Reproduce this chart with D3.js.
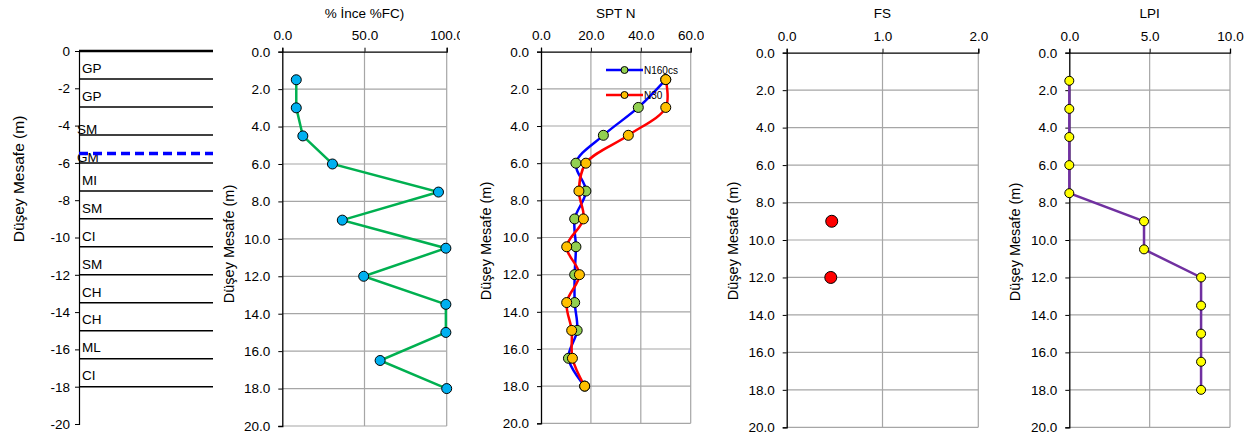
<!DOCTYPE html>
<html>
<head>
<meta charset="utf-8">
<script src="https://cdn.jsdelivr.net/npm/d3@7/dist/d3.min.js"></script>
<style>
  html, body { margin: 0; padding: 0; background: #fff; }
  svg { display: block; font-family: "Liberation Sans", Arial, sans-serif; }
  .tick text { font-size: 13.5px; fill: #000; }
</style>
</head>
<body>
<svg id="chart" width="1255" height="438"></svg>
<script>
// ---------------- DATA ----------------
const depths = [1.5, 3, 4.5, 6, 7.5, 9, 10.5, 12, 13.5, 15, 16.5, 18];
const fineContent = [8.5, 8.5, 12.5, 30.5, 95, 36.5, 99.5, 49.5, 99.5, 99.5, 59.5, 100];
const n160cs = [50, 39, 25, 14, 18, 13.5, 14, 13.5, 13.5, 14.5, 11, 17.5];
const n30 = [50, 50, 35, 18, 15.2, 17, 10.3, 15.4, 10.3, 12.3, 12.6, 17.5];
const fsDepths = [9, 12];
const fsValues = [0.47, 0.46];
const lpiValues = [0, 0, 0, 0, 0, 4.65, 4.65, 8.2, 8.2, 8.2, 8.2, 8.2];
const layerBounds = [0, 1.5, 3, 4.5, 6, 7.5, 9, 10.5, 12, 13.5, 15, 16.5, 18];
const layerNames = ["GP", "GP", "SM", "GM", "MI", "SM", "CI", "SM", "CH", "CH", "ML", "CI"];
const waterTableDepth = 5.5;
const soilTicks = [0, -2, -4, -6, -8, -10, -12, -14, -16, -18, -20];
const depthTicks = [0, 2, 4, 6, 8, 10, 12, 14, 16, 18, 20];
const fcTicks = [0, 50, 100];
const sptTicks = [0, 20, 40, 60];
const fsTicks = [0, 1, 2];
const lpiTicks = [0, 5, 10];
const legendNames = ["N160cs", "N30"];

// ---------------- DRAW ----------------
const svg = d3.select("#chart");
const fmt1 = d3.format(".1f");
const yTitle = "Düşey Mesafe (m)";

// Soil column
(function () {
  const x0 = 79, x1 = 213;
  const y = d3.scaleLinear().domain([0, -20]).range([51, 424]);
  const g = svg.append("g");
  const ax = g.append("g").attr("transform", `translate(${x0},0)`)
    .call(d3.axisLeft(y).tickValues(soilTicks).tickFormat(d3.format("d")).tickSize(4).tickPadding(5));
  ax.select(".domain").attr("stroke", "#000").attr("stroke-width", 1.2);
  ax.selectAll(".tick line").attr("stroke", "#000");
  ax.selectAll(".tick text").text(d => d === 0 ? "0" : "-" + Math.abs(d));
  layerBounds.forEach((d, i) => {
    g.append("line").attr("x1", x0).attr("x2", x1)
      .attr("y1", y(-d)).attr("y2", y(-d))
      .attr("stroke", "#000").attr("stroke-width", i === 0 ? 2.5 : 1.5);
  });
  layerNames.forEach((name, i) => {
    const mid = (layerBounds[i] + layerBounds[i + 1]) / 2;
    const shifted = (i === 2 || i === 3);
    g.append("text").attr("x", shifted ? 77 : 82)
      .attr("y", y(-mid) + (shifted ? 8 : 3)).attr("dy", "0.35em")
      .attr("font-size", 13.5).text(name);
  });
  g.append("line").attr("x1", x0).attr("x2", x1)
    .attr("y1", y(-waterTableDepth)).attr("y2", y(-waterTableDepth))
    .attr("stroke", "#0000FF").attr("stroke-width", 3.5).attr("stroke-dasharray", "9,5");
  g.append("text").attr("transform", `translate(24,179) rotate(-90)`)
    .attr("text-anchor", "middle").attr("font-size", 15.5).text(yTitle);
})();

function panel(opts) {
  const { title, x0, x1, y0, y1, max, ticks, clipRight } = opts;
  const x = d3.scaleLinear().domain([0, max]).range([x0, x1]);
  const y = d3.scaleLinear().domain([0, 20]).range([y0, y1]);
  const id = "clip" + Math.round(x0);
  svg.append("clipPath").attr("id", id).append("rect")
    .attr("x", x0 - 80).attr("y", 0).attr("width", clipRight - (x0 - 80)).attr("height", 438);
  const g = svg.append("g").attr("clip-path", `url(#${id})`);
  // grid
  g.append("g").selectAll("line").data(depthTicks.slice(1)).join("line")
    .attr("x1", x0).attr("x2", x1).attr("y1", d => y(d)).attr("y2", d => y(d))
    .attr("stroke", "#A6A6A6").attr("stroke-width", 1.2);
  g.append("g").selectAll("line").data(ticks.slice(1)).join("line")
    .attr("x1", d => x(d)).attr("x2", d => x(d)).attr("y1", y0).attr("y2", y1)
    .attr("stroke", "#A6A6A6").attr("stroke-width", 1.2);
  // axes
  const ay = g.append("g").attr("transform", `translate(${x0},0)`)
    .call(d3.axisLeft(y).tickValues(depthTicks).tickFormat(fmt1).tickSize(4).tickPadding(8));
  const axT = g.append("g").attr("transform", `translate(0,${y0})`)
    .call(d3.axisTop(x).tickValues(ticks).tickFormat(fmt1).tickSize(4).tickPadding(8));
  [ay, axT].forEach(a => {
    a.select(".domain").attr("stroke", "#000").attr("stroke-width", 1.3);
    a.selectAll(".tick line").attr("stroke", "#000");
  });
  g.append("text").attr("x", (x0 + x1) / 2).attr("y", 18)
    .attr("text-anchor", "middle").attr("font-size", 13.5).text(title);
  g.append("text").attr("transform", `translate(${opts.yTitleX},${opts.yTitleY}) rotate(-90)`)
    .attr("text-anchor", "middle").attr("font-size", 14.5).text(yTitle);
  return { g, x, y };
}

// Fine content
(function () {
  const { g, x, y } = panel({ title: "% İnce %FC)", x0: 282.3, x1: 446.7, y0: 51.7, y1: 426, max: 100,
    ticks: fcTicks, clipRight: 460, yTitleX: 234, yTitleY: 244 });
  const pts = depths.map((d, i) => [fineContent[i], d]);
  g.append("path").attr("d", d3.line().x(d => x(d[0])).y(d => y(d[1]))(pts))
    .attr("fill", "none").attr("stroke", "#00B050").attr("stroke-width", 2.5);
  g.selectAll("circle.fc").data(pts).join("circle").attr("class", "fc")
    .attr("cx", d => x(d[0])).attr("cy", d => y(d[1])).attr("r", 5)
    .attr("fill", "#00B0F0").attr("stroke", "#000").attr("stroke-width", 1);
})();

// SPT N
(function () {
  const { g, x, y } = panel({ title: "SPT N", x0: 541, x1: 690.7, y0: 51.7, y1: 423.3, max: 60,
    ticks: sptTicks, clipRight: 704, yTitleX: 491, yTitleY: 241 });
  const series = [
    { vals: n160cs, line: "#0000FF", fill: "#92D050" },
    { vals: n30, line: "#FF0000", fill: "#FFC000" }
  ];
  const lineGen = d3.line().x(d => x(d[0])).y(d => y(d[1])).curve(d3.curveCatmullRom.alpha(0.5));
  series.forEach(s => {
    const pts = depths.map((d, i) => [s.vals[i], d]);
    g.append("path").attr("d", lineGen(pts)).attr("fill", "none")
      .attr("stroke", s.line).attr("stroke-width", 2.5);
  });
  series.forEach(s => {
    const pts = depths.map((d, i) => [s.vals[i], d]);
    g.selectAll(null).data(pts).join("circle")
      .attr("cx", d => x(d[0])).attr("cy", d => y(d[1])).attr("r", 5)
      .attr("fill", s.fill).attr("stroke", "#000").attr("stroke-width", 1);
  });
  // legend
  series.forEach((s, i) => {
    const ly = 70 + i * 25;
    g.append("line").attr("x1", 606).attr("x2", 643).attr("y1", ly).attr("y2", ly)
      .attr("stroke", s.line).attr("stroke-width", 2.5);
    g.append("circle").attr("cx", 624.5).attr("cy", ly).attr("r", 3.5)
      .attr("fill", s.fill).attr("stroke", "#000").attr("stroke-width", 1);
    g.append("text").attr("x", 644).attr("y", ly).attr("dy", "0.35em")
      .attr("font-size", 10).text(legendNames[i]);
  });
})();

// FS
(function () {
  const { g, x, y } = panel({ title: "FS", x0: 786.7, x1: 978.3, y0: 52.7, y1: 427.3, max: 2,
    ticks: fsTicks, clipRight: 1000, yTitleX: 738, yTitleY: 241 });
  g.selectAll("circle.fs").data(fsDepths.map((d, i) => [fsValues[i], d])).join("circle").attr("class", "fs")
    .attr("cx", d => x(d[0])).attr("cy", d => y(d[1])).attr("r", 6)
    .attr("fill", "#FF0000").attr("stroke", "#000").attr("stroke-width", 1);
})();

// LPI
(function () {
  const { g, x, y } = panel({ title: "LPI", x0: 1069.3, x1: 1230, y0: 52.7, y1: 427.3, max: 10,
    ticks: lpiTicks, clipRight: 1255, yTitleX: 1020, yTitleY: 242 });
  const pts = depths.map((d, i) => [lpiValues[i], d]);
  g.append("path").attr("d", d3.line().x(d => x(d[0])).y(d => y(d[1]))(pts))
    .attr("fill", "none").attr("stroke", "#7030A0").attr("stroke-width", 2.5);
  g.selectAll("circle.lpi").data(pts).join("circle").attr("class", "lpi")
    .attr("cx", d => x(d[0])).attr("cy", d => y(d[1])).attr("r", 4.5)
    .attr("fill", "#FFFF00").attr("stroke", "#000").attr("stroke-width", 1);
})();
</script>
</body>
</html>
